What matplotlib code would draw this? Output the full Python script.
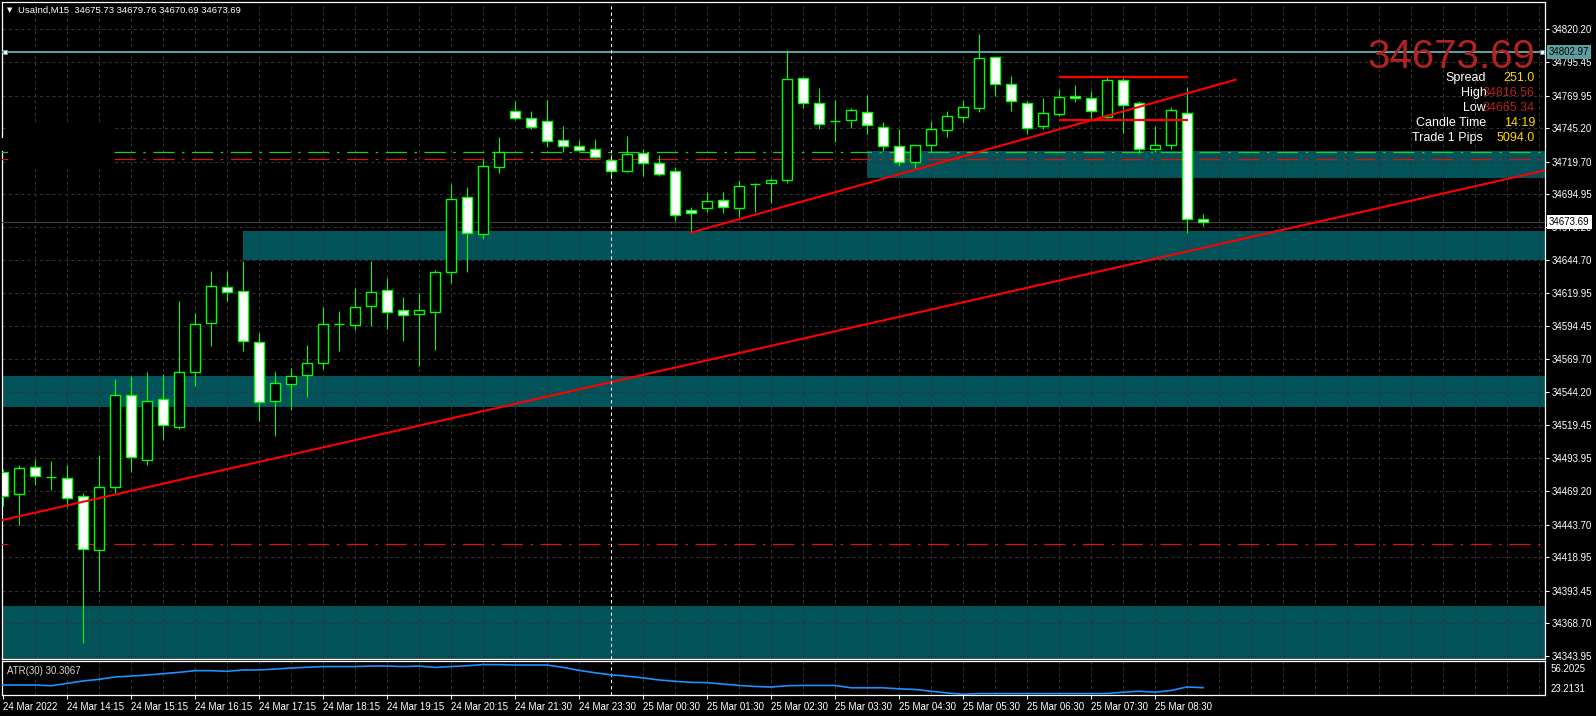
import numpy as np
import matplotlib
matplotlib.use("Agg")
import matplotlib.pyplot as plt
import matplotlib.transforms as mtransforms
from matplotlib.patches import Rectangle

plt.rcParams['font.family'] = ['Liberation Sans', 'DejaVu Sans']

# UsaInd M15 candles, 24 Mar 13:15 .. 25 Mar 08:45
opens = [34483.45, 34466.71, 34487.25, 34479.80, 34478.88, 34465.19, 34424.13, 34472.04, 34542.00, 34492.57,
         34538.96, 34518.12, 34559.95, 34597.22, 34624.14, 34621.10, 34582.31, 34537.44, 34550.37, 34557.21,
         34566.34, 34596.10, 34595.24, 34609.69, 34621.86, 34606.65, 34603.60, 34605.13, 34635.55, 34692.58,
         34664.44, 34715.40, 34757.99, 34752.66, 34750.38, 34735.93, 34731.37, 34729.09, 34720.72, 34712.36,
         34726.05, 34718.44, 34712.36, 34682.70, 34684.22, 34690.30, 34684.22, 34702.60, 34703.23, 34705.51,
         34783.08, 34764.07, 34750.70, 34751.14, 34757.23, 34746.28, 34731.37, 34719.20, 34732.13, 34743.54,
         34753.42, 34760.27, 34799.05, 34778.52, 34764.07, 34746.58, 34755.71, 34769.39, 34767.87, 34753.42,
         34781.56, 34764.07, 34729.09, 34732.13, 34756.47, 34675.73]
highs = [34485.96, 34489.00, 34493.56, 34492.04, 34489.00, 34467.47, 34496.60, 34554.40, 34556.68, 34559.72,
         34558.20, 34613.72, 34604.59, 34636.53, 34636.53, 34644.14, 34589.16, 34559.72, 34562.77, 34580.26,
         34609.16, 34606.11, 34623.61, 34644.14, 34631.21, 34616.76, 34619.80, 34637.29, 34702.70, 34700.19,
         34721.48, 34738.21, 34765.82, 34758.21, 34766.58, 34746.81, 34735.93, 34736.92, 34725.29, 34738.97,
         34729.09, 34724.53, 34715.40, 34684.98, 34696.39, 34696.39, 34705.51, 34703.23, 34707.03, 34804.60,
         34784.07, 34775.48, 34766.58, 34760.27, 34770.38, 34749.62, 34744.53, 34732.13, 34750.61, 34757.99,
         34766.58, 34816.56, 34799.50, 34784.83, 34765.59, 34768.10, 34774.72, 34777.76, 34773.20, 34783.84,
         34783.08, 34765.59, 34746.58, 34761.26, 34776.47, 34679.76]
lows = [34458.05, 34443.37, 34473.79, 34469.98, 34457.28, 34353.40, 34393.40, 34467.47, 34483.90, 34489.00,
        34508.01, 34516.15, 34549.30, 34579.73, 34613.95, 34575.92, 34522.69, 34511.28, 34531.05, 34540.94,
        34562.01, 34575.92, 34591.89, 34594.93, 34592.65, 34583.53, 34564.52, 34576.68, 34627.64, 34636.00,
        34661.10, 34711.29, 34751.14, 34744.75, 34730.61, 34726.81, 34727.57, 34722.50, 34706.73, 34712.00,
        34709.01, 34709.01, 34674.79, 34665.66, 34681.63, 34680.42, 34677.83, 34681.63, 34688.48, 34703.69,
        34760.72, 34744.75, 34734.64, 34745.51, 34740.95, 34728.02, 34716.62, 34714.33, 34726.81, 34738.67,
        34748.86, 34757.68, 34769.85, 34757.99, 34740.49, 34744.75, 34754.41, 34764.83, 34751.90, 34752.66,
        34741.71, 34726.05, 34726.81, 34729.54, 34665.34, 34670.69]
closes = [34465.65, 34486.49, 34480.40, 34479.64, 34463.67, 34424.89, 34472.04, 34542.00, 34494.85, 34537.44,
          34519.19, 34559.50, 34596.00, 34624.90, 34620.34, 34583.07, 34536.68, 34551.13, 34556.45, 34566.34,
          34596.00, 34596.00, 34608.93, 34620.34, 34605.13, 34602.85, 34606.65, 34635.55, 34691.06, 34665.21,
          34716.16, 34726.81, 34752.66, 34745.82, 34735.17, 34731.37, 34728.33, 34723.00, 34712.36, 34725.29,
          34718.44, 34710.07, 34678.89, 34680.42, 34689.54, 34684.98, 34700.95, 34702.47, 34705.51, 34782.32,
          34764.07, 34748.10, 34750.61, 34758.75, 34747.34, 34731.37, 34719.20, 34732.13, 34744.30, 34754.19,
          34761.03, 34798.29, 34778.52, 34765.59, 34745.06, 34756.47, 34768.63, 34767.87, 34757.99, 34781.56,
          34762.55, 34729.09, 34732.13, 34758.75, 34675.73, 34673.69]
atr = [32.9, 32.9, 32.9, 32.2, 34.5, 36.8, 38.4, 40.7, 41.6, 42.6,
       43.9, 45.2, 46.8, 46.8, 46.2, 47.5, 47.5, 48.4, 49.4, 50.1,
       50.8, 50.8, 50.8, 51.3, 51.3, 50.8, 51.3, 50.0, 50.8, 51.6,
       52.7, 52.7, 52.3, 52.3, 52.3, 50.0, 47.1, 44.8, 42.8, 41.5,
       39.8, 37.8, 36.5, 35.5, 35.2, 33.8, 32.5, 31.5, 30.9, 32.2,
       32.5, 32.5, 32.5, 30.2, 30.2, 30.2, 29.2, 28.6, 26.9, 25.2,
       23.9, 24.6, 24.6, 24.6, 24.6, 24.6, 24.6, 24.6, 24.6, 24.6,
       25.9, 26.9, 25.9, 27.6, 31.0, 30.3067]

time_labels = ["24 Mar 2022", "24 Mar 14:15", "24 Mar 15:15", "24 Mar 16:15", "24 Mar 17:15",
               "24 Mar 18:15", "24 Mar 19:15", "24 Mar 20:15", "24 Mar 21:30", "24 Mar 23:30",
               "25 Mar 00:30", "25 Mar 01:30", "25 Mar 02:30", "25 Mar 03:30", "25 Mar 04:30",
               "25 Mar 05:30", "25 Mar 06:30", "25 Mar 07:30", "25 Mar 08:30"]
price_ticks = [34820.20, 34795.45, 34769.95, 34745.20, 34719.70, 34694.95, 34670.20, 34644.70,
               34619.95, 34594.45, 34569.70, 34544.20, 34519.45, 34493.95, 34469.20, 34443.70,
               34418.95, 34393.45, 34368.70, 34343.95]

# zones (start bar, top, bottom) and lines drawn on the chart
zones = [(15, 34666.95, 34644.67), (54, 34727.80, 34707.49),
         (-1, 34556.68, 34533.34), (-1, 34381.77, 34300.00)]
resistance = 34802.97
bid = 34673.69
green_level = 34726.8
red_level_hi = 34721.5
red_level_lo = 34428.7
trend_long = [(0, 34447.2), (75, 34654.1)]
trend_short = [(43, 34665.66), (77.04, 34782.0)]
box_levels = [34784.3, 34751.6]

GREEN = '#00ff00'
TEAL = '#03535a'
W, H = 1596, 716

fig = plt.figure(figsize=(W / 100, H / 100), dpi=100, facecolor='black')
ax = fig.add_axes([2 / W, 1 - 659 / H, 1543 / W, 657 / H], facecolor='black')
atr_ax = fig.add_axes([2 / W, 1 - 695 / H, 1543 / W, 34 / H], facecolor='black')

n = len(opens)
x = np.arange(n)
xlim = (-0.0625, 96.375)

# zones first, grid over them
for start, top, bot in zones:
    ax.add_patch(Rectangle((start, bot), 200, top - bot, facecolor=TEAL, edgecolor='none', zorder=1))

for k in np.arange(2, 97, 2):
    ax.axvline(k, color='#333333', lw=0.75, ls=(0, (3, 3)), zorder=2)
    atr_ax.axvline(k, color='#333333', lw=0.75, ls=(0, (3, 3)), zorder=1)
for p in price_ticks:
    ax.axhline(p, color='#333333', lw=0.75, ls=(0, (3, 3)), zorder=2)

# horizontal levels
dd = (0, (17, 6, 2, 6))
ax.hlines([green_level] * 2, [-0.1, 6.94], [0.35, 100], color='#22cc22', lw=0.9, ls=dd, zorder=3)
ax.hlines([red_level_hi] * 2, [-0.1, 6.94], [0.35, 100], color='#e01010', lw=0.9, ls=dd, zorder=3)
ax.hlines([red_level_lo] * 2, [-0.1, 4.5], [0.3, 100], color='#e01010', lw=0.9, ls=dd, zorder=3)
ax.axhline(bid, color='#3c3c3c', lw=0.8, zorder=3)
ax.axhline(resistance, color='#5f9ea0', lw=1.5, zorder=3)
ax.plot([0.1, 96.17], [resistance, resistance], ls='none', marker='s', ms=3.5,
        mfc='white', mec='#5f9ea0', mew=0.8, zorder=6, clip_on=False)

# black label objects hiding the left part of the upper levels
ax.add_patch(Rectangle((0.33, 34714.9), 6.55, 35.0, facecolor='black', edgecolor='none', zorder=3.5))
ax.add_patch(Rectangle((-0.6, 34727.8), 0.7, 9.9, facecolor='black', edgecolor='none',
                       zorder=3.5, clip_on=False))

# candles
ax.vlines(x, lows, highs, color=GREEN, lw=0.8, zorder=4)
for i in range(n):
    o, c = opens[i], closes[i]
    fill = 'white' if c < o else 'black'
    ax.add_patch(Rectangle((i - 0.3, min(o, c)), 0.6, max(abs(c - o), 0.05),
                           facecolor=fill, edgecolor=GREEN, lw=1.0, zorder=5))

# trend lines
ax.axline(trend_long[0], trend_long[1], color='red', lw=1.5, zorder=6)
ax.plot([trend_short[0][0], trend_short[1][0]], [trend_short[0][1], trend_short[1][1]],
        color='red', lw=1.5, zorder=6)
ax.hlines(box_levels, 66, 74.05, color='red', lw=1.6, zorder=6)

# period separator
ax.axvline(38, color='white', lw=0.75, ls=(0, (3, 3)), zorder=6)
atr_ax.axvline(38, color='white', lw=0.75, ls=(0, (3, 3)), zorder=2)

ax.set_xlim(*xlim)
ax.set_ylim(34341.46, 34841.11)
ax.set_xticks([])
ax.yaxis.tick_right()
ax.set_yticks(price_ticks)
ax.set_yticklabels([f"{v:.2f}" for v in price_ticks])
ax.tick_params(axis='y', colors='white', labelsize=7, length=3, width=0.75, pad=2)
for s in ax.spines.values():
    s.set_color('white')
    s.set_linewidth(0.9)

# price boxes on the scale
tr = mtransforms.blended_transform_factory(ax.transAxes, ax.transData)
ax.text(1.0025, resistance, f"{resistance:.2f}", transform=tr, fontsize=7, color='black',
        va='center', ha='left', bbox=dict(facecolor='#5f9ea0', edgecolor='none', pad=1.2), zorder=10)
ax.text(1.0025, bid, f"{bid:.2f}", transform=tr, fontsize=7, color='black',
        va='center', ha='left', bbox=dict(facecolor='white', edgecolor='none', pad=1.6), zorder=10)

# ATR window
atr_ax.plot(x, atr, color='#1e90ff', lw=1.2, zorder=3)
atr_ax.set_xlim(*xlim)
atr_ax.set_ylim(23.2131, 56.2025)
atr_ax.set_yticks([])
atr_ax.set_xticks(np.arange(0, 4 * len(time_labels), 4))
atr_ax.set_xticklabels(time_labels)
for lbl in atr_ax.get_xticklabels():
    lbl.set_ha('left')
atr_ax.tick_params(axis='x', colors='white', labelsize=7, length=3, width=0.75, pad=2)
for s in atr_ax.spines.values():
    s.set_color('white')
    s.set_linewidth(0.9)

fig.text(7.3 / W, 1 - 670.7 / H, "ATR(30) 30.3067", color='#d8d8d8', fontsize=7, va='center')
fig.text(1551 / W, 1 - 669 / H, "56.2025", color='white', fontsize=7, va='center')
fig.text(1551 / W, 1 - 689 / H, "23.2131", color='white', fontsize=7, va='center')

# header and info panel
fig.text(7 / W, 1 - 10 / H, "▼", color='white', fontsize=5, va='center', family='DejaVu Sans')
fig.text(18 / W, 1 - 10 / H, "UsaInd,M15  34675.73 34679.76 34670.69 34673.69",
         color='white', fontsize=6.8, va='center')
fig.text(1535 / W, 1 - 68 / H, f"{closes[-1]:.2f}", color='#b22222', fontsize=29,
         ha='right', va='baseline')

info_rows = [("Spread", "251.0", 'gold', 1486), ("High", "34816.56", '#b22222', 1487),
             ("Low", "34665.34", '#b22222', 1486), ("Candle Time", "14:19", 'gold', 1486),
             ("Trade 1 Pips", "5094.0", 'gold', 1483)]
for j, (name, val, col, xr) in enumerate(info_rows):
    yy = 1 - (78.3 + 15 * j) / H
    fig.text(xr / W, yy, name, color='white', fontsize=9, ha='right', va='center')
    fig.text(1535 / W, yy, val, color=col, fontsize=9, ha='right', va='center')

fig.savefig("out.png", dpi=100, facecolor='black')
